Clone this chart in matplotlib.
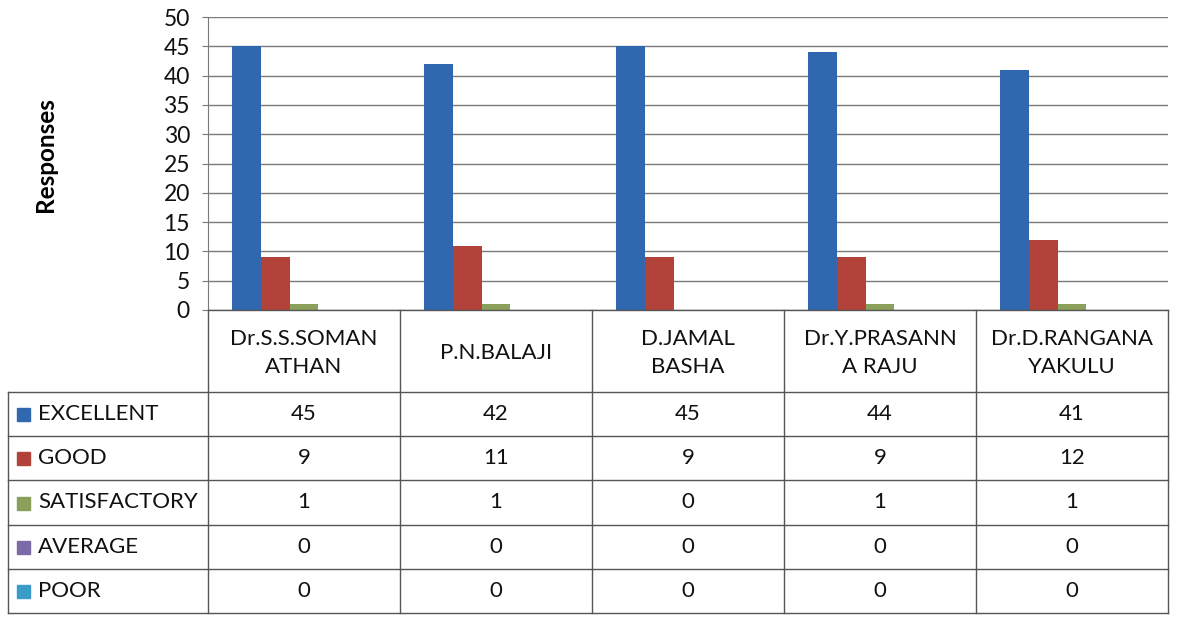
import matplotlib
matplotlib.use("Agg")
import matplotlib.pyplot as plt
from matplotlib.patches import Rectangle
import numpy as np

plt.rcParams['font.family'] = ['Lato', 'DejaVu Sans']

# ---- data ----
categories = ["Dr.S.S.SOMAN\nATHAN", "P.N.BALAJI", "D.JAMAL\nBASHA",
              "Dr.Y.PRASANN\nA RAJU", "Dr.D.RANGANA\nYAKULU"]
series_names = ["EXCELLENT", "GOOD", "SATISFACTORY", "AVERAGE", "POOR"]
excellent = [45, 42, 45, 44, 41]
good = [9, 11, 9, 9, 12]
satisfactory = [1, 1, 0, 1, 1]
average = [0, 0, 0, 0, 0]
poor = [0, 0, 0, 0, 0]
y_ticks = [0, 5, 10, 15, 20, 25, 30, 35, 40, 45, 50]
y_label = "Responses"

series_values = [excellent, good, satisfactory, average, poor]
colors = ['#3068B0', '#B3433A', '#8AA05A', '#7A6AA8', '#3A9CC8']

W, H = 1186, 618
fig = plt.figure(figsize=(W / 100, H / 100), dpi=100)

def fx(px):
    return px / W

def fy(py):
    return 1 - py / H

left, right, top, bottom = 208, 1168, 17, 310
ax = fig.add_axes([fx(left), fy(bottom), fx(right - left), fy(top) - fy(bottom)])

n = len(categories)
x = np.arange(n)
bw = 0.15
for i, (vals, c) in enumerate(zip(series_values, colors)):
    ax.bar(x + (i - 2) * bw, vals, width=bw, color=c, zorder=3)

ax.set_xlim(-0.5, n - 0.5)
ax.set_ylim(0, 50)
ax.set_yticks(y_ticks)
ax.set_xticks([])
ax.yaxis.grid(True, color='#7a7a7a', linewidth=1.0, zorder=0)
ax.set_axisbelow(True)
for s in ['right', 'bottom']:
    ax.spines[s].set_visible(False)
ax.spines['top'].set_visible(False)
ax.spines['left'].set_color('#7a7a7a')
ax.tick_params(axis='y', length=4, color='#7a7a7a', pad=9, labelsize=16.5,
               labelcolor='#111111')
ax.set_ylabel(y_label, fontsize=17.5, fontweight='bold', labelpad=0)
ax.yaxis.set_label_coords((57 - left) / (right - left), 0.53)

# ---- data table below ----
tb = 613
tax = fig.add_axes([fx(left), fy(tb), fx(right - left), fy(bottom) - fy(tb)],
                   sharex=ax)
tax.set_ylim(tb - bottom, 0)
tax.axis('off')

line_kw = dict(color='#555555', linewidth=1.0, clip_on=False)
header_h = 82
row_h = (tb - bottom - header_h) / len(series_names)
unit = (right - left) / n
legend_left = -0.5 - (left - 8) / unit

# header row
tax.plot([-0.5, n - 0.5], [0, 0], **line_kw)
for k in range(n + 1):
    tax.plot([k - 0.5, k - 0.5], [0, tb - bottom], **line_kw)
for j in range(len(series_names) + 1):
    yy = header_h + j * row_h
    tax.plot([legend_left, n - 0.5], [yy, yy], **line_kw)
tax.plot([legend_left, legend_left], [header_h, tb - bottom], **line_kw)

for k, cat in enumerate(categories):
    tax.text(k, header_h / 2 + 2, cat, ha='center', va='center', fontsize=16,
             linespacing=1.45, color='#111111')

for j, (name, vals, c) in enumerate(zip(series_names, series_values, colors)):
    yc = header_h + (j + 0.5) * row_h
    tax.add_patch(Rectangle((legend_left + 9 / unit, yc - 6), 13 / unit, 13,
                            color=c, clip_on=False))
    tax.text(legend_left + 30 / unit, yc, name, ha='left', va='center',
             fontsize=16, color='#111111')
    for k, v in enumerate(vals):
        tax.text(k, yc, str(v), ha='center', va='center', fontsize=16, color='#111111')

fig.savefig("out.png", dpi=100)
